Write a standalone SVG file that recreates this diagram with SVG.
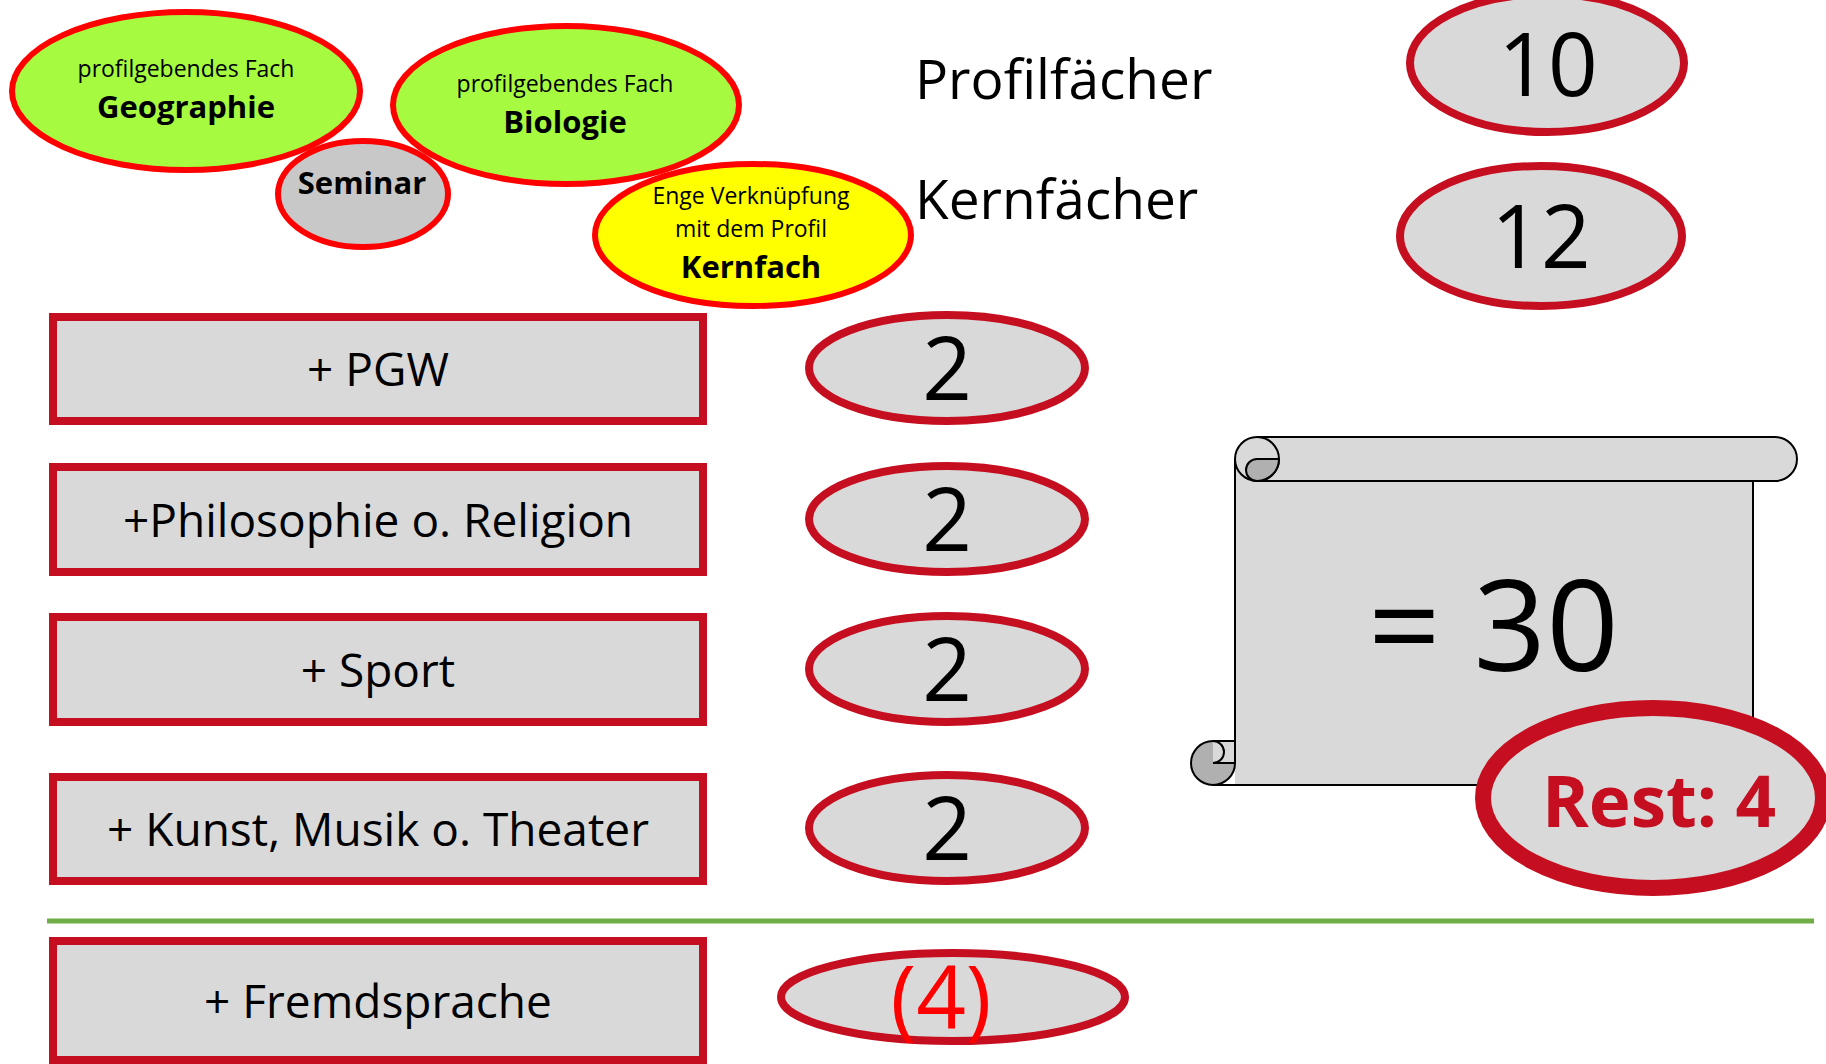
<svg xmlns="http://www.w3.org/2000/svg" width="1826" height="1064" viewBox="0 0 1826 1064">
<style>
text{font-family:"Open Sans","Noto Sans","DejaVu Sans",sans-serif;fill:#000}
.mid{text-anchor:middle}
.bub{stroke:#FF0000;stroke-width:6}
.box{fill:#D9D9D9;stroke:#C50E1F;stroke-width:8}
.num{fill:#D9D9D9;stroke:#C50E1F;stroke-width:8}
.sm{font-size:23px}
.bd{font-weight:bold;font-size:31px}
.lbl{font-size:46px}
.big{font-size:87px}
.hd{font-size:55px}
.sc{fill:#D9D9D9;stroke:#000;stroke-width:2}
.ln{fill:none;stroke:#000;stroke-width:2}
</style>
<rect width="1826" height="1064" fill="#FFFFFF"/>

<g id="geographie">
<ellipse class="bub" cx="186" cy="91" rx="174" ry="79" fill="#A6FB40"/>
<text class="mid sm" x="186" y="77">profilgebendes Fach</text>
<text class="mid bd" x="186" y="118">Geographie</text>
</g>
<g id="biologie">
<ellipse class="bub" cx="566" cy="105" rx="173" ry="79" fill="#A6FB40"/>
<text class="mid sm" x="565" y="92">profilgebendes Fach</text>
<text class="mid bd" x="565" y="133">Biologie</text>
</g>
<g id="seminar">
<ellipse class="bub" cx="363" cy="194" rx="85" ry="53" fill="#C8C8C8"/>
<text class="mid bd" x="362" y="194">Seminar</text>
</g>
<g id="kernfach">
<ellipse class="bub" cx="753" cy="235" rx="158" ry="71" fill="#FFFF00"/>
<text class="mid sm" x="751" y="204">Enge Verknüpfung</text>
<text class="mid sm" x="751" y="237">mit dem Profil</text>
<text class="mid bd" x="751" y="278">Kernfach</text>
</g>

<g id="profilfaecher">
<text class="hd" x="915" y="99">Profilfächer</text>
</g>
<g id="kernfaecher">
<text class="hd" x="915" y="219">Kernfächer</text>
</g>
<g id="n10">
<ellipse class="num" cx="1547" cy="63" rx="137" ry="69"/>
<text class="mid big" x="1548" y="96">10</text>
</g>
<g id="n12">
<ellipse class="num" cx="1541" cy="236" rx="141" ry="70"/>
<text class="mid big" x="1541" y="268">12</text>
</g>

<g id="pgw">
<rect class="box" x="53" y="317" width="650" height="104"/>
<text class="mid lbl" x="378" y="386">+ PGW</text>
</g>
<g id="philosophie">
<rect class="box" x="53" y="467" width="650" height="105"/>
<text class="mid lbl" x="378" y="537">+Philosophie o. Religion</text>
</g>
<g id="sport">
<rect class="box" x="53" y="617" width="650" height="105"/>
<text class="mid lbl" x="378" y="687">+ Sport</text>
</g>
<g id="kunst">
<rect class="box" x="53" y="777" width="650" height="104"/>
<text class="mid lbl" x="378" y="846">+ Kunst, Musik o. Theater</text>
</g>
<g id="fremdsprache">
<rect class="box" x="53" y="941" width="650" height="119"/>
<text class="mid lbl" x="378" y="1018">+ Fremdsprache</text>
</g>

<g id="e1">
<ellipse class="num" cx="947" cy="368" rx="138" ry="53"/>
<text class="mid big" x="947" y="400">2</text>
</g>
<g id="e2">
<ellipse class="num" cx="947" cy="519" rx="138" ry="53"/>
<text class="mid big" x="947" y="551">2</text>
</g>
<g id="e3">
<ellipse class="num" cx="947" cy="669" rx="138" ry="53"/>
<text class="mid big" x="947" y="701">2</text>
</g>
<g id="e4">
<ellipse class="num" cx="947" cy="828" rx="138" ry="53"/>
<text class="mid big" x="947" y="860">2</text>
</g>
<g id="e5">
<ellipse class="num" cx="953" cy="997" rx="172" ry="44" stroke-width="7"/>
<text class="mid big" x="941" y="1029" style="fill:#FF0000">(4)</text>
</g>

<g id="connectors">
<line x1="47" y1="921" x2="1814" y2="921" stroke="#70AD47" stroke-width="5"/>
</g>

<g id="scroll">
<rect x="1235" y="459" width="518" height="326" fill="#D9D9D9"/>
<path class="sc" d="M1257,437 L1775,437 A22,22 0 0 1 1775,481 L1257,481"/>
<circle class="sc" cx="1257" cy="459" r="22"/>
<path d="M1257,459 L1279,459 A22,22 0 0 1 1257,481 A11,11 0 0 1 1257,459 Z" fill="#B0B0B0" stroke="#000" stroke-width="2"/>
<circle cx="1213" cy="763" r="22" fill="#B0B0B0" stroke="#000" stroke-width="2"/>
<rect x="1213" y="741" width="22" height="22" fill="#D9D9D9"/>
<path class="ln" d="M1213,741 L1235,741 M1213,763 L1235,763 M1213,741 A11,11 0 0 1 1213,763"/>
<path class="ln" d="M1235,459 L1235,763 M1213,785 L1753,785 L1753,481"/>
<text x="1368" y="671" style="font-size:127px">= 30</text>
</g>

<g id="rest">
<ellipse cx="1653" cy="798" rx="170" ry="90" fill="#D9D9D9" stroke="#C50E1F" stroke-width="16"/>
<text class="mid" x="1659" y="827" style="font-size:71px;font-weight:bold;fill:#C50E1F">Rest: 4</text>
</g>
</svg>
